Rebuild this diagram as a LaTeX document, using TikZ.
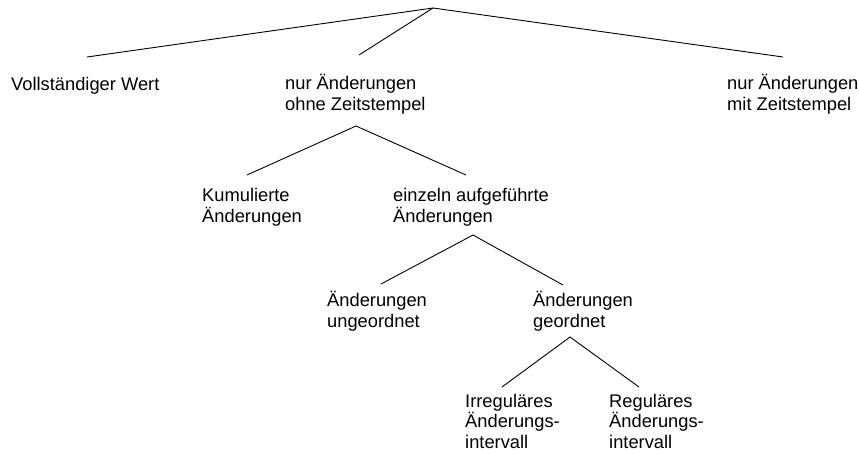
\documentclass[tikz,border=0pt]{standalone}
\usepackage{fontspec}
\setmainfont{Liberation Sans}

\begin{document}
\begin{tikzpicture}[x=1pt, y=-1pt,
    every node/.style={anchor=base west, align=left, inner sep=0pt,
        font=\fontsize{18.3}{20.2}\selectfont},
    branch/.style={line width=0.9pt}]
    \useasboundingbox (0,0) rectangle (859,453);
    \coordinate (root) at (433,8);
    \node (voll) at (11,90) {Vollständiger Wert};
    \node (ohne) at (285,110) {nur Änderungen\\ohne Zeitstempel};
    \node (mit) at (727,110) {nur Änderungen\\mit Zeitstempel};
    \coordinate (voll-top) at (87,57);
    \coordinate (ohne-top) at (359,55);
    \coordinate (mit-top) at (783,57);
    \draw[branch] (voll-top) -- (root) -- (mit-top);
    \draw[branch] (root) -- (ohne-top);

    \coordinate (ohne-fork) at (356,126);
    \node (kum) at (202,222) {Kumulierte\\Änderungen};
    \node (einz) at (393,222) {einzeln aufgeführte\\Änderungen};
    \coordinate (kum-top) at (247,175);
    \coordinate (einz-top) at (466,175);
    \draw[branch] (kum-top) -- (ohne-fork) -- (einz-top);

    \coordinate (einz-fork) at (473,235);
    \node (unge) at (327,327) {Änderungen\\ungeordnet};
    \node (geord) at (533,327) {Änderungen\\geordnet};
    \coordinate (unge-top) at (381,284);
    \coordinate (geord-top) at (563,285);
    \draw[branch] (unge-top) -- (einz-fork) -- (geord-top);

    \coordinate (geord-fork) at (570,337);
    \node (irreg) at (465,448) {Irreguläres\\Änderungs-\\intervall};
    \node (reg) at (609,448) {Reguläres\\Änderungs-\\intervall};
    \coordinate (irreg-top) at (502,387);
    \coordinate (reg-top) at (639,387);
    \draw[branch] (irreg-top) -- (geord-fork) -- (reg-top);
\end{tikzpicture}
\end{document}
